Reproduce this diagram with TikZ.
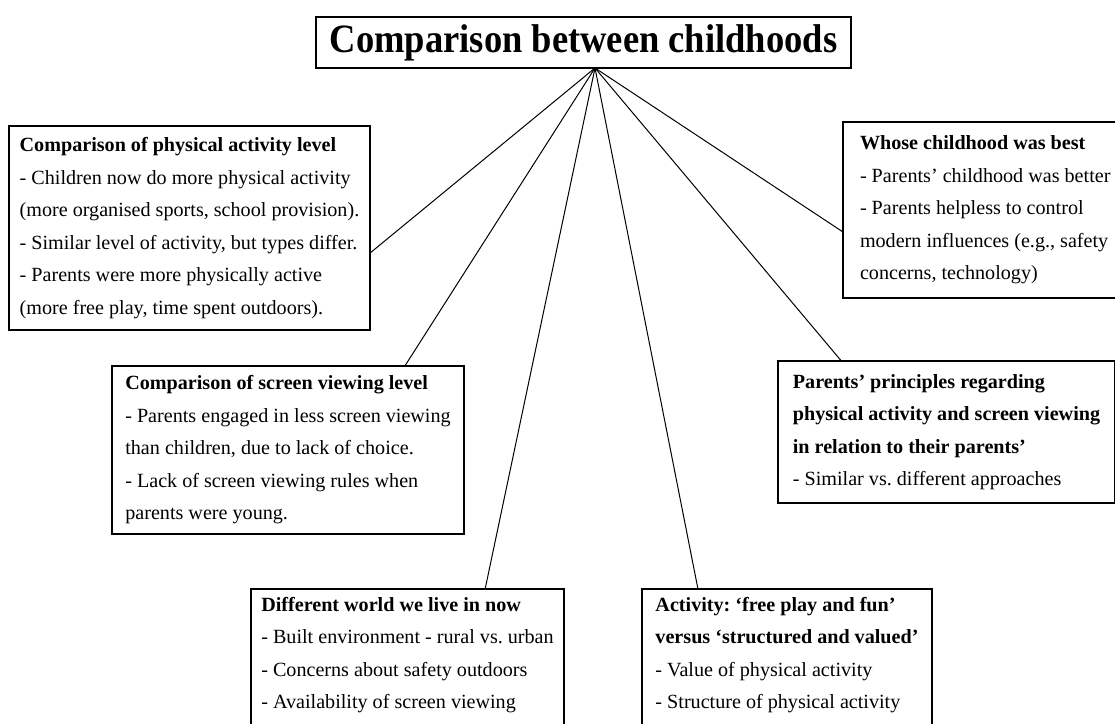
\documentclass[tikz,border=0pt]{standalone}
\usepackage{fontspec}
\setmainfont{Liberation Serif}
\usetikzlibrary{calc}
\frenchspacing

\begin{document}
\begin{tikzpicture}[x=0.75pt,y=0.75pt,yscale=-1,xscale=1,
  theme/.style={draw, line width=2pt, outer sep=0pt, anchor=north west, inner xsep=7pt, inner ysep=6pt, align=left, font=\fontsize{15.1}{24.4}\selectfont},
  headbox/.style={draw, line width=2pt, outer sep=0pt, anchor=north west, inner sep=0pt, font=\fontsize{27.4}{32}\selectfont\bfseries},
  link/.style={line width=0.75pt}]
%set diagram left start at 0, and has height of 724
\path[use as bounding box] (0,0) rectangle (1115,724);

% Text Node
\node [headbox, minimum width=401.25pt, minimum height=38.25pt] (title) at (316,17) {\scalebox{1}[1.1]{Comparison between childhoods}};
\coordinate (hub) at ($(title.south west)!0.5215!(title.south east)$);

% Text Node
\node [theme, minimum width=270.75pt, minimum height=153pt] (pa) at (9,126) {\textbf{Comparison of physical activity level}\\- Children now do more physical activity\\(more organised sports, school provision).\\- Similar level of activity, but types differ.\\- Parents were more physically active\\(more free play, time spent outdoors).};
% Text Node
\node [theme, minimum width=264pt, minimum height=126pt] (sv) at (112,366) {\textbf{Comparison of screen viewing level}\\- Parents engaged in less screen viewing\\than children, due to lack of choice.\\- Lack of screen viewing rules when\\parents were young.};
% Text Node
\node [theme, minimum width=234.75pt, text depth=95pt] (dw) at (251,589) {\textbf{Different world we live in now}\\- Built environment - rural vs. urban\\- Concerns about safety outdoors\\- Availability of screen viewing};
% Text Node
\node [theme, minimum width=217.5pt, text depth=95pt] (fp) at (642,589) {\textbf{Activity: ‘free play and fun’}\\\textbf{versus ‘structured and valued’}\\- Value of physical activity\\- Structure of physical activity};
% Text Node
\node [theme, inner xsep=10pt, minimum width=252.75pt, minimum height=106.5pt] (pp) at (778,361) {\textbf{Parents’ principles regarding}\\\textbf{physical activity and screen viewing}\\\textbf{in relation to their parents’}\\- Similar vs. different approaches};
% Text Node
\node [theme, inner xsep=12.75pt, minimum height=132pt] (wb) at (843,122) {\textbf{Whose childhood was best}\\- Parents’ childhood was better\\- Parents helpless to control\\modern influences (e.g., safety\\concerns, technology)};

%Straight Lines
\draw [link] (hub) -- ($(pa.north east)!0.623!(pa.south east)$);
\draw [link] (hub) -- ($(sv.north west)!0.832!(sv.north east)$);
\draw [link] (hub) -- ($(dw.north west)!0.748!(dw.north east)$);
\draw [link] (hub) -- ($(fp.north west)!0.193!(fp.north east)$);
\draw [link] (hub) -- ($(pp.north west)!0.188!(pp.north east)$);
\draw [link] (hub) -- ($(wb.north west)!0.625!(wb.south west)$);

\end{tikzpicture}
\end{document}
